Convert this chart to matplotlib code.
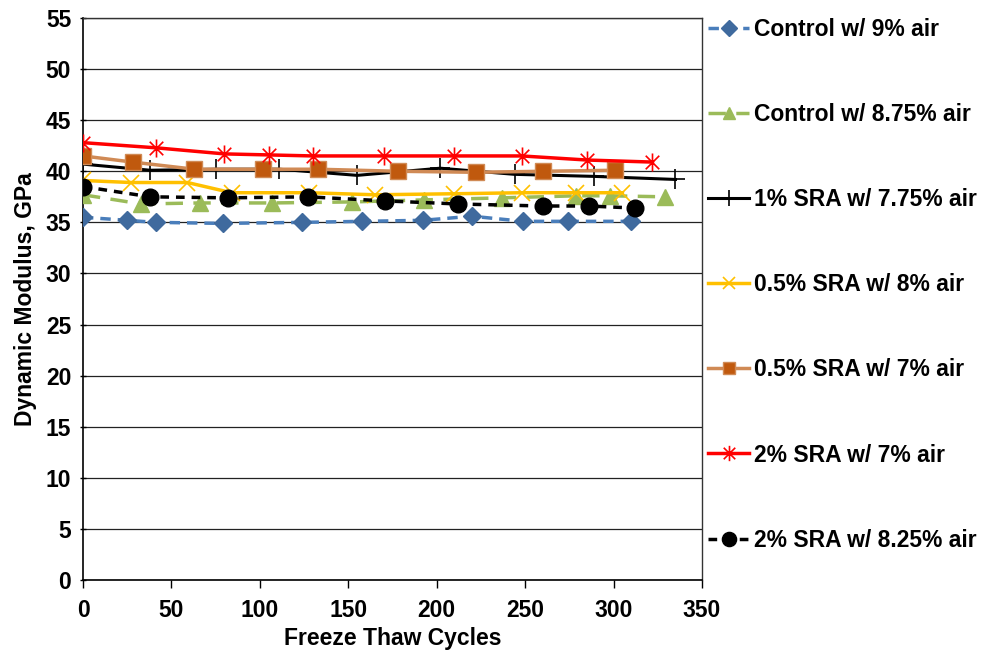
import matplotlib
matplotlib.use("Agg")
import matplotlib.pyplot as plt
from matplotlib.path import Path

plt.rcParams['font.family'] = ['Liberation Sans', 'DejaVu Sans']
plt.rcParams['font.weight'] = 'bold'

# Data (Freeze-thaw cycles vs dynamic modulus, GPa)
ctrl9_x = [0, 25, 41, 79, 124, 158, 192, 220, 249, 274, 310]
ctrl9_y = [35.5, 35.2, 35.0, 34.9, 35.0, 35.1, 35.2, 35.6, 35.1, 35.1, 35.1]

ctrl875_x = [0, 33, 66, 107, 152, 193, 237, 279, 298, 329]
ctrl875_y = [37.7, 36.8, 36.9, 36.9, 37.0, 37.2, 37.4, 37.6, 37.6, 37.5]

sra1_x = [0, 38, 75, 111, 155, 202, 244, 289, 335]
sra1_y = [40.7, 40.1, 40.2, 40.2, 39.6, 40.3, 39.7, 39.5, 39.2]

sra05_8_x = [0, 27, 59, 84, 128, 165, 210, 248, 279, 305]
sra05_8_y = [39.1, 38.9, 38.9, 37.9, 37.9, 37.7, 37.8, 37.9, 37.9, 37.9]

sra05_7_x = [0, 28, 63, 102, 133, 178, 222, 260, 301]
sra05_7_y = [41.5, 40.9, 40.2, 40.2, 40.2, 40.0, 39.9, 40.0, 40.1]

sra2_7_x = [0, 41, 80, 105, 130, 170, 210, 248, 285, 322]
sra2_7_y = [42.8, 42.3, 41.7, 41.6, 41.5, 41.5, 41.5, 41.5, 41.1, 40.9]

sra2_825_x = [0, 38, 82, 127, 171, 212, 260, 286, 312]
sra2_825_y = [38.5, 37.5, 37.4, 37.5, 37.1, 36.8, 36.6, 36.6, 36.4]

labels = ["Control w/ 9% air", "Control w/ 8.75% air", "1% SRA w/ 7.75% air",
          "0.5% SRA w/ 8% air", "0.5% SRA w/ 7% air", "2% SRA w/ 7% air",
          "2% SRA w/ 8.25% air"]

xticks = [0, 50, 100, 150, 200, 250, 300, 350]
yticks = [0, 5, 10, 15, 20, 25, 30, 35, 40, 45, 50, 55]

star = Path([(0, -1), (0, 1), (-0.75, -0.75), (0.75, 0.75), (-0.75, 0.75), (0.75, -0.75)],
            [Path.MOVETO, Path.LINETO, Path.MOVETO, Path.LINETO, Path.MOVETO, Path.LINETO])

FS = 16.5

fig = plt.figure(figsize=(9.84, 6.56), dpi=100)
ax = fig.add_axes([83/984, 76/656, 619/984, 562/656])

ax.plot(ctrl9_x, ctrl9_y, color='#4A7EBB', ls=(0, (3, 2)), lw=2.5, marker='D', ms=9,
        mfc='#3F6A9E', mec='#3F6A9E', label=labels[0], zorder=3)
ax.plot(ctrl875_x, ctrl875_y, color='#9BBB59', ls=(0, (5, 3)), lw=2.5, marker='^', ms=11,
        mfc='#9BBB59', mec='#9BBB59', label=labels[1], zorder=3)
ax.plot(sra1_x, sra1_y, color='black', ls='-', lw=2.2, marker='+', ms=14, mew=1.2,
        label=labels[2], zorder=3)
ax.plot(sra05_8_x, sra05_8_y, color='#FFC000', ls='-', lw=2.5, marker='x', ms=11, mew=1.2,
        label=labels[3], zorder=3)
ax.plot(sra05_7_x, sra05_7_y, color='#D08A55', ls='-', lw=2.5, marker='s', ms=11,
        mfc='#C0590E', mec='#D08A55', mew=1, label=labels[4], zorder=3)
ax.plot(sra2_7_x, sra2_7_y, color='#FF0000', ls='-', lw=2.5, marker=star, ms=13, mew=1.2,
        label=labels[5], zorder=3)
ax.plot(sra2_825_x, sra2_825_y, color='black', ls=(0, (2.5, 2)), lw=2.5, marker='o', ms=12,
        mfc='black', mec='black', label=labels[6], zorder=3)

ax.set_xlim(0, 350)
ax.set_ylim(0, 55)
ax.set_xticks(xticks)
ax.set_yticks(yticks)
ax.yaxis.grid(True, color='#222222', lw=0.9)
ax.set_axisbelow(True)
ax.tick_params(axis='both', labelsize=FS, width=1, length=5, direction='inout', colors='black')
ax.tick_params(axis='x', direction='out', length=6, pad=8)
ax.tick_params(axis='y', pad=6)
for t in ax.get_xticklabels() + ax.get_yticklabels():
    t.set_fontweight('bold')
for s in ['left', 'bottom']:
    ax.spines[s].set_color('black')
    ax.spines[s].set_linewidth(1.2)
for s in ['right', 'top']:
    ax.spines[s].set_color('#333333')
    ax.spines[s].set_linewidth(1.0)

ax.set_xlabel("Freeze Thaw Cycles", fontsize=FS, fontweight='bold', labelpad=3)
ax.set_ylabel("Dynamic Modulus, GPa", fontsize=FS, fontweight='bold', labelpad=6)

leg = fig.legend(loc='upper left', bbox_to_anchor=(708/984, 1 - 18/656), frameon=False,
                 fontsize=FS, handlelength=1.8, handletextpad=0.2, labelspacing=2.71,
                 borderpad=0, borderaxespad=0, markerscale=0.85)
for t in leg.get_texts():
    t.set_fontweight('bold')

fig.savefig("out.png", dpi=100)
